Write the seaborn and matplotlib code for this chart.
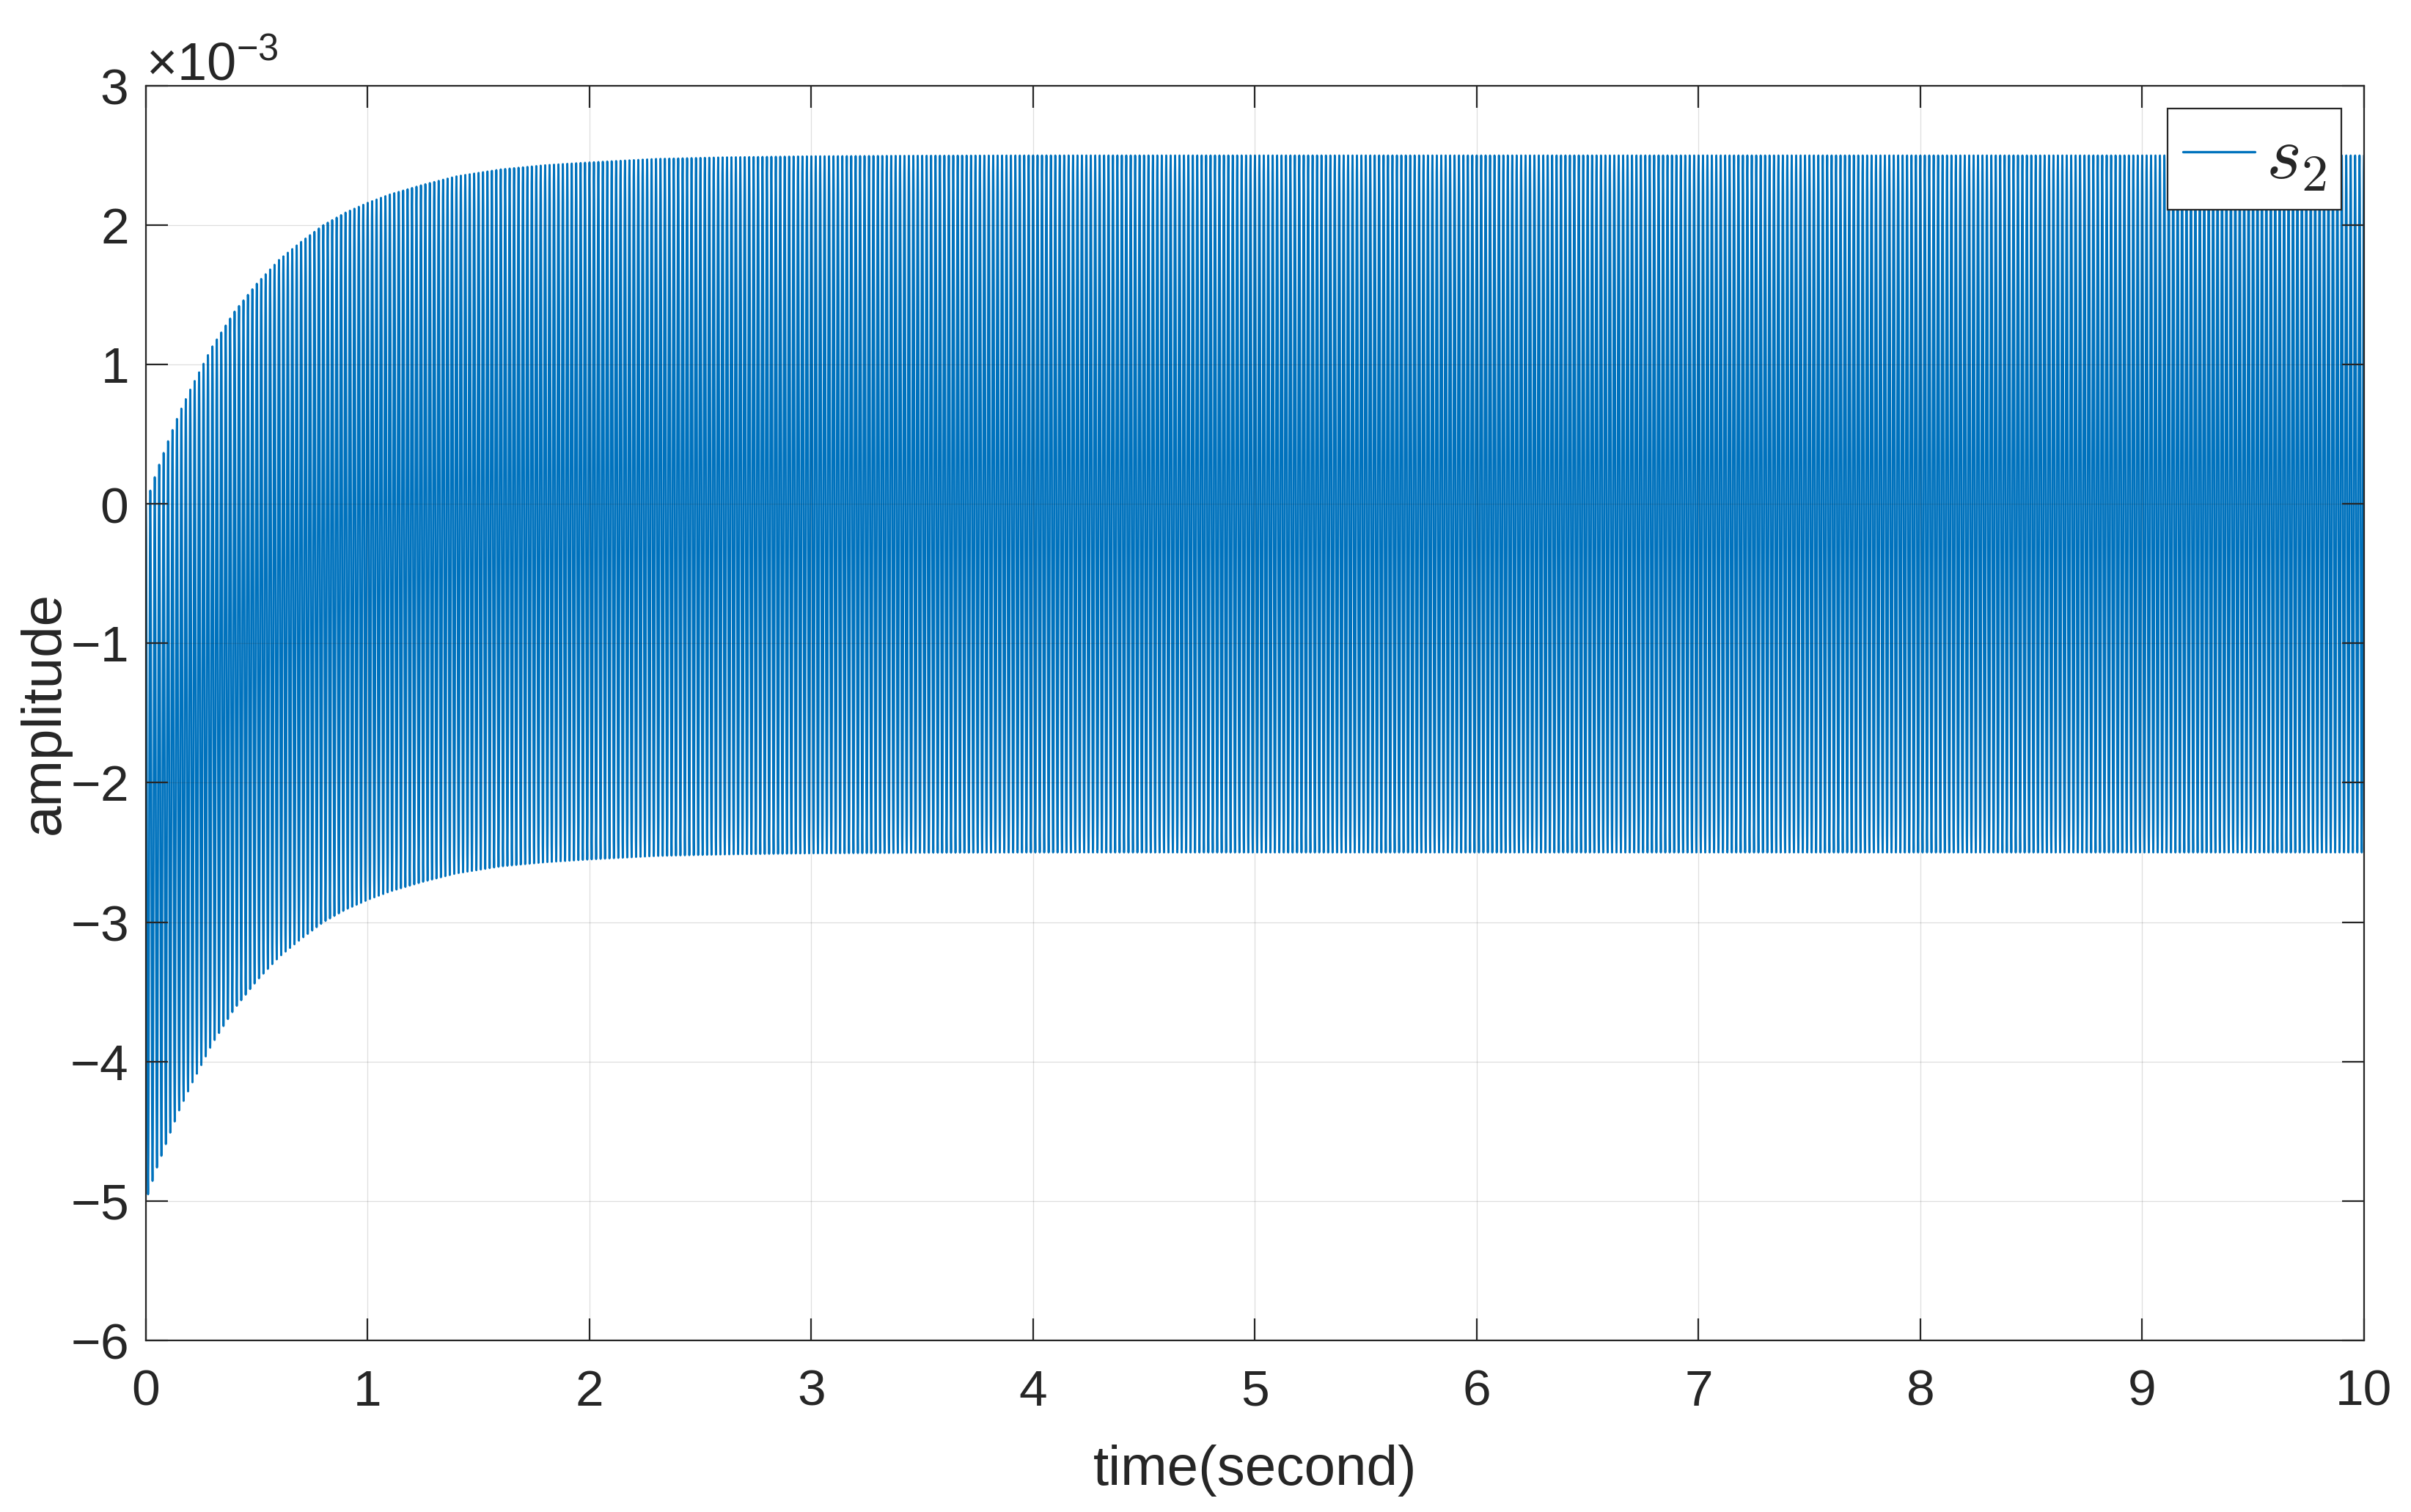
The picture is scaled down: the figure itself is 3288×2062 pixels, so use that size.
"""
plot.py
-------
Sliding variable s2 chattering around zero (MATLAB style figure).

The trace is a ~50 Hz chatter between an upper and a lower envelope;
both envelopes are read off the original figure (units of 1e-3).
"""

import numpy as np
import matplotlib
matplotlib.use("Agg")
import matplotlib.pyplot as plt
from matplotlib.font_manager import FontProperties
import seaborn as sns

# ---- values -----------------------------------------------------------
env_time = [0.0, 0.025, 0.05, 0.1, 0.15, 0.2, 0.3, 0.4, 0.5, 0.6, 0.7,
            0.8, 0.9, 1.0, 1.1, 1.25, 1.4, 1.6, 1.8, 2.0, 2.3, 2.6,
            3.0, 3.5, 4.0, 10.0]
env_upper = [0.0, 0.12, 0.24, 0.45, 0.65, 0.82, 1.13, 1.38, 1.58, 1.75, 1.88,
             2.0, 2.09, 2.16, 2.22, 2.29, 2.35, 2.40, 2.43, 2.45, 2.475, 2.486,
             2.494, 2.498, 2.5, 2.5]
env_lower = [-5.0, -4.88, -4.76, -4.55, -4.35, -4.18, -3.87, -3.62, -3.42, -3.25, -3.12,
             -3.0, -2.91, -2.84, -2.78, -2.71, -2.65, -2.60, -2.57, -2.55, -2.525, -2.514,
             -2.506, -2.502, -2.5, -2.5]
chatter_hz = 50          # ~20 cycles counted over 0.4 s
sample_dt = 0.0005

x_ticks = list(range(0, 11))
y_ticks = [-6, -5, -4, -3, -2, -1, 0, 1, 2, 3]   # x 1e-3
series_name = r"$s_2$"

LINE_COLOR = "#0072BD"
AX_COLOR = "#262626"

# ---- dense trace --------------------------------------------------------
t = np.arange(0.0, 10.0 + sample_dt / 2, sample_dt)
up = np.interp(t, env_time, env_upper) * 1e-3
lo = np.interp(t, env_time, env_lower) * 1e-3
s2 = (up + lo) / 2 + (up - lo) / 2 * np.cos(2 * np.pi * chatter_hz * t)

# ---- style --------------------------------------------------------------
sns.set_style("ticks")
plt.rcParams["font.family"] = ["Liberation Sans", "DejaVu Sans"]
plt.rcParams["mathtext.fontset"] = "custom"
plt.rcParams["mathtext.rm"] = "Liberation Sans"
plt.rcParams["mathtext.it"] = "Liberation Sans:italic"
plt.rcParams["axes.edgecolor"] = AX_COLOR
plt.rcParams["axes.linewidth"] = 0.8

fig = plt.figure(figsize=(16.44, 10.31), dpi=200)
ax = fig.add_axes([0.0605, 0.1135, 0.92, 0.8298])

sns.lineplot(x=t, y=s2, ax=ax, color=LINE_COLOR, linewidth=1.0,
             estimator=None, sort=False, label=series_name)

ax.set_xlim(0, 10)
ax.set_ylim(-6e-3, 3e-3)
ax.set_xticks(x_ticks)
ax.set_yticks([v * 1e-3 for v in y_ticks])
ax.ticklabel_format(axis="y", style="sci", scilimits=(0, 0), useMathText=True)
ax.yaxis.get_offset_text().set_fontsize(26)
ax.yaxis.get_offset_text().set_color(AX_COLOR)

ax.grid(True, color=AX_COLOR, alpha=0.15, linewidth=0.45)
ax.set_axisbelow(False)
for side in ax.spines.values():
    side.set_visible(True)
    side.set_color(AX_COLOR)

ax.tick_params(which="both", direction="in", top=True, right=True,
               length=10.8, width=0.8, color=AX_COLOR,
               labelsize=25, labelcolor=AX_COLOR)
ax.tick_params(axis="x", pad=14)
ax.tick_params(axis="y", pad=9)

ax.set_xlabel("time(second)", fontsize=27.5, color=AX_COLOR)
ax.set_ylabel("amplitude", fontsize=27.5, color=AX_COLOR)
ax.xaxis.set_label_coords(0.5, -0.083)
ax.yaxis.set_label_coords(-0.0337, 0.5)

leg = ax.legend(loc="upper right",
                prop=FontProperties(size=37, math_fontfamily="cm"),
                frameon=True, fancybox=False, framealpha=1,
                edgecolor=AX_COLOR, borderpad=0.2, borderaxespad=0.3,
                handlelength=0.95, handletextpad=0.15)
leg.get_frame().set_linewidth(0.8)
for handle in leg.get_lines():
    handle.set_linewidth(1.2)

fig.savefig("out.png", dpi=200)
plt.close(fig)
